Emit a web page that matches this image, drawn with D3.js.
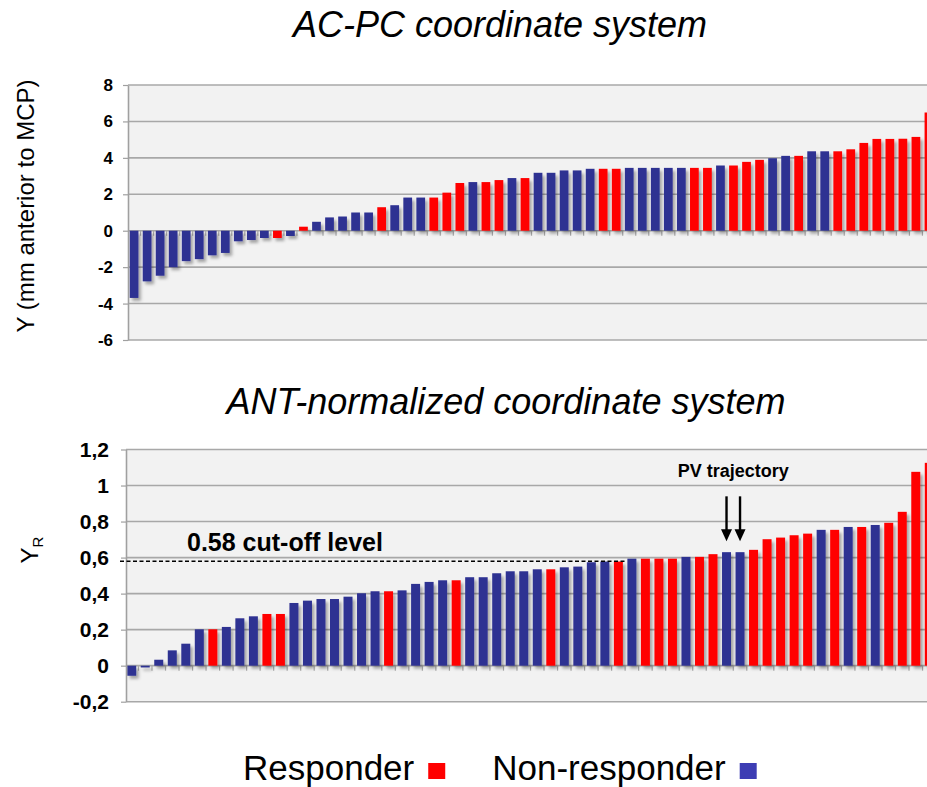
<!DOCTYPE html>
<html><head><meta charset="utf-8">
<script src="https://cdn.jsdelivr.net/npm/d3@7"></script>
<style>
body{margin:0;background:#fff;}
svg{display:block;font-family:Arial,"Liberation Sans",sans-serif;}
</style>
</head><body>
<svg id="c" width="927" height="787"></svg>
<script>
// ---------- data ----------
const topTitle = "AC-PC coordinate system";
const bottomTitle = "ANT-normalized coordinate system";
const topValues = [-3.69, -2.78, -2.47, -2.0, -1.67, -1.56, -1.35, -1.22, -0.58, -0.51, -0.4, -0.4, -0.29,
  0.22, 0.49, 0.73, 0.78, 1.0, 1.0, 1.29, 1.4,
  1.82, 1.82, 1.82, 2.09, 2.62, 2.67, 2.67, 2.78, 2.89, 2.89, 3.18, 3.18, 3.31, 3.31, 3.4, 3.4, 3.4, 3.45, 3.45, 3.45, 3.45,
  3.45, 3.45, 3.45, 3.58, 3.58, 3.78, 3.89, 3.98, 4.11, 4.11, 4.36, 4.36, 4.36, 4.47, 4.82, 5.04, 5.04, 5.05, 5.15, 6.49];
const topGroups = ["N","N","N","N","N","N","N","N","N","N","N","R","N","R","N","N","N","N","N","R",
  "N","N","N","R","R","R","N","R","R","N","R","N","N","N","N","N","R","R","N","N",
  "N","N","N","R","R","N","R","R","R","N","N","R","N","N","R","R","R","R","R","R","R","R"];
const bottomValues = [-0.056, -0.01, 0.033, 0.085, 0.122, 0.202, 0.202, 0.215, 0.263, 0.274,
  0.287, 0.287, 0.348, 0.361, 0.37, 0.37, 0.383, 0.402, 0.413, 0.413,
  0.418, 0.454, 0.465, 0.474, 0.474, 0.491, 0.491, 0.513, 0.524, 0.524,
  0.535, 0.535, 0.546, 0.55, 0.574, 0.578, 0.578, 0.594, 0.594, 0.594,
  0.594, 0.604, 0.604, 0.619, 0.63, 0.63, 0.643, 0.702, 0.711, 0.724,
  0.733, 0.754, 0.754, 0.77, 0.77, 0.781, 0.793, 0.854, 1.076, 1.126];
const bottomGroups = ["N","N","N","N","N","N","R","N","N","N",
  "R","R","N","N","N","N","N","N","N","R",
  "N","N","N","N","R","N","N","N","N","N",
  "N","R","N","N","N","N","R","N","R","R",
  "R","N","R","R","N","N","R","R","R","R",
  "R","N","R","N","R","N","R","R","R","R"];
const topTicks = [-6, -4, -2, 0, 2, 4, 6, 8];
const topTickLabels = ["-6", "-4", "-2", "0", "2", "4", "6", "8"];
const bottomTicks = [-0.2, 0, 0.2, 0.4, 0.6, 0.8, 1.0, 1.2];
const bottomTickLabels = ["-0,2", "0", "0,2", "0,4", "0,6", "0,8", "1", "1,2"];
const cutoffValue = 0.58;
const cutoffLabel = "0.58 cut-off level";
const cutoffEndBar = 37;          // dashed line ends after this many bars
const pvBars = [45, 46];          // 1-based bar numbers marked "PV trajectory"
const pvLabel = "PV trajectory";
const legendItems = [{key:"R", label:"Responder"}, {key:"N", label:"Non-responder"}];
const colors = {R:"#ff0000", N:"#2e3192"};
const legendColors = {R:"#ff0000", N:"#3d3db4"};

// ---------- drawing ----------
const svg = d3.select("#c");
const defs = svg.append("defs");
const flt = defs.append("filter").attr("id","sh")
  .attr("x","-50%").attr("y","-20%").attr("width","220%").attr("height","150%");
flt.append("feDropShadow").attr("dx",2.5).attr("dy",3).attr("stdDeviation",1.6)
  .attr("flood-color","#000").attr("flood-opacity",0.32);

function panel(o) {
  const g = svg.append("g");
  const n = o.values.length;
  const x = d3.scaleBand().domain(d3.range(n)).range([o.left, o.right])
    .paddingInner(o.pInner).paddingOuter(o.pOuter);
  const y = d3.scaleLinear().domain(o.domain).range([o.bottom, o.top]);

  g.append("rect").attr("x", o.left).attr("y", y(o.domain[1]))
    .attr("width", o.right - o.left).attr("height", y(o.domain[0]) - y(o.domain[1]))
    .attr("fill", "#f2f2f2");

  // gridlines
  g.selectAll("line.grid").data(o.ticks).join("line")
    .attr("x1", o.left).attr("x2", o.right)
    .attr("y1", d => y(d)).attr("y2", d => y(d))
    .attr("stroke", "#a8a8a8").attr("stroke-width", 1.6);

  // category tick marks under zero line
  const step = x.step();
  const bounds = d3.range(1, n).map(i => x(i) - step * o.pInner / 2);
  g.selectAll("line.xt").data(bounds).join("line")
    .attr("x1", d => d).attr("x2", d => d)
    .attr("y1", y(0)).attr("y2", y(0) + 5)
    .attr("stroke", "#a8a8a8").attr("stroke-width", 1.2);

  // bars
  g.append("g").attr("filter", "url(#sh)")
    .selectAll("rect").data(o.values).join("rect")
    .attr("x", (d, i) => x(i)).attr("width", x.bandwidth())
    .attr("y", d => y(Math.max(0, d)))
    .attr("height", d => Math.max(1, Math.abs(y(d) - y(0))))
    .attr("fill", (d, i) => colors[o.groups[i]]);

  // left axis
  const ax = d3.axisLeft(y).tickValues(o.ticks)
    .tickFormat((d, i) => o.labels[i]).tickSize(5).tickSizeOuter(0).tickPadding(o.labelPad);
  const axg = g.append("g").attr("transform", `translate(${o.left},0)`).call(ax);
  axg.select(".domain").attr("stroke", "#a0a0a0").attr("stroke-width", 1.6);
  axg.selectAll(".tick line").attr("stroke", "#a0a0a0").attr("stroke-width", 1.2);
  axg.selectAll(".tick text").attr("font-size", o.tickFont).attr("font-weight", "bold")
    .attr("fill", "#000").attr("font-family", "Arial, 'Liberation Sans', sans-serif");
  return {g, x, y};
}

// titles
svg.append("text").attr("x", 500).attr("y", 37).attr("text-anchor", "middle")
  .attr("font-size", 36).attr("font-style", "italic").text(topTitle);
svg.append("text").attr("x", 506).attr("y", 414).attr("text-anchor", "middle")
  .attr("font-size", 36).attr("font-style", "italic").text(bottomTitle);

// top panel
const P1 = panel({values: topValues, groups: topGroups, left: 128, right: 935, top: 85, bottom: 340,
  domain: [-6, 8], ticks: topTicks, labels: topTickLabels, tickFont: 17, labelPad: 10,
  pInner: 0.33, pOuter: 0.13});
svg.append("text").attr("transform", "translate(34,206) rotate(-90)")
  .attr("text-anchor", "middle").attr("font-size", 24).text("Y (mm anterior to MCP)");

// bottom panel
const P2 = panel({values: bottomValues, groups: bottomGroups, left: 126, right: 935, top: 449.5, bottom: 701.7,
  domain: [-0.2, 1.2], ticks: bottomTicks, labels: bottomTickLabels, tickFont: 21, labelPad: 12,
  pInner: 0.335, pOuter: 0.09});
const yl = svg.append("text").attr("transform", "translate(38,550) rotate(-90)")
  .attr("text-anchor", "middle").attr("font-size", 24);
yl.append("tspan").text("Y");
yl.append("tspan").attr("font-size", 15).attr("dy", 5).text("R");

// cut-off line
const step2 = P2.x.step();
const cutEnd = P2.x(cutoffEndBar) - step2 * 0.335 / 2;
svg.append("line").attr("x1", 120).attr("x2", cutEnd)
  .attr("y1", P2.y(cutoffValue)).attr("y2", P2.y(cutoffValue))
  .attr("stroke", "#000").attr("stroke-width", 1.5).attr("stroke-dasharray", "4,2.5");
svg.append("text").attr("x", 187).attr("y", 551).attr("font-size", 25).attr("font-weight", "bold")
  .text(cutoffLabel);

// PV trajectory arrows
const pvX = pvBars.map(b => P2.x(b - 1) + P2.x.bandwidth() / 2);
pvX.forEach(cx => {
  const v = bottomValues[pvBars[0] - 1];
  const y1 = P2.y(v + 0.31), y2 = P2.y(v + 0.06);
  svg.append("line").attr("x1", cx).attr("x2", cx).attr("y1", y1).attr("y2", y2 - 10)
    .attr("stroke", "#000").attr("stroke-width", 2.4);
  svg.append("path").attr("d", `M${cx-5.5},${y2-12} L${cx+5.5},${y2-12} L${cx},${y2} Z`).attr("fill", "#000");
});
svg.append("text").attr("x", d3.mean(pvX)).attr("y", 477).attr("text-anchor", "middle")
  .attr("font-size", 18).attr("font-weight", "bold").text(pvLabel);

// legend
const lg = svg.append("g");
let lx = 243;
legendItems.forEach((it, i) => {
  const t = lg.append("text").attr("x", lx).attr("y", 780).attr("font-size", 35).text(it.label);
  const w = t.node().getComputedTextLength();
  lg.append("rect").attr("x", lx + w + 14).attr("y", 763).attr("width", 17).attr("height", 16)
    .attr("fill", legendColors[it.key]);
  lx = lx + w + 14 + 17 + 47;
});
</script>
</body></html>
